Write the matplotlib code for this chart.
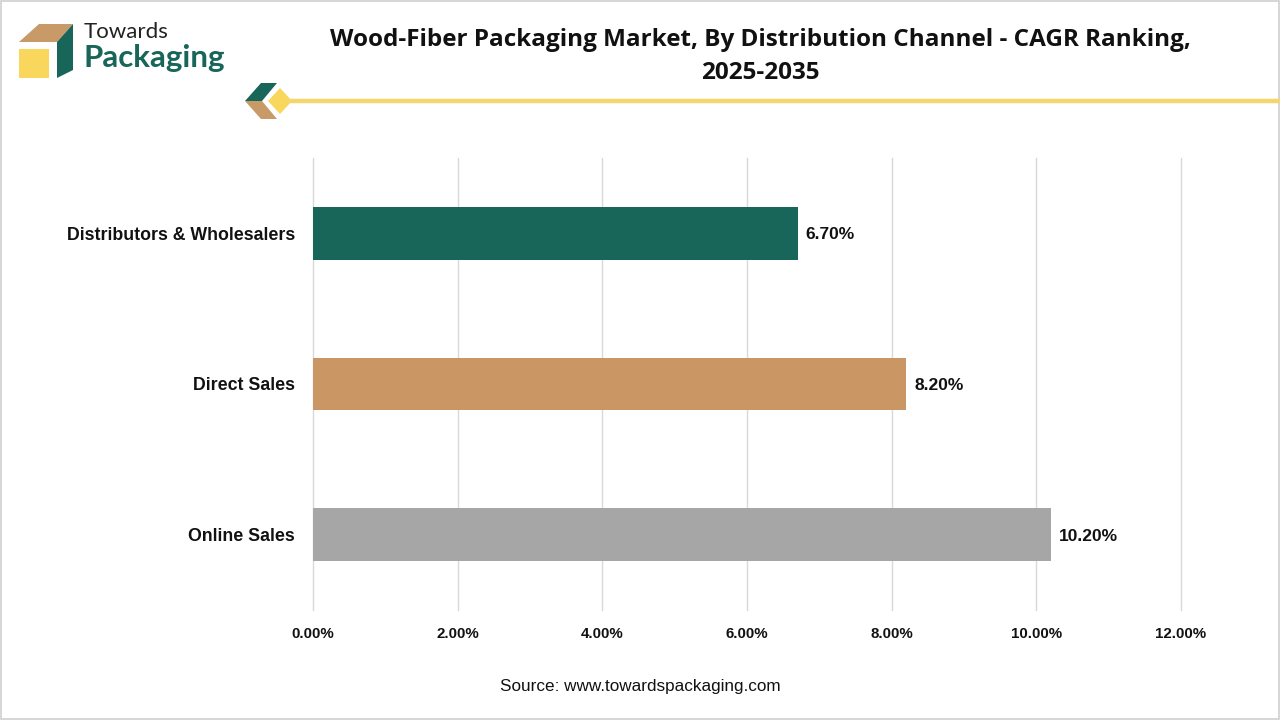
import matplotlib

matplotlib.use("Agg")
import matplotlib.pyplot as plt
from matplotlib.patches import Polygon, Rectangle
from matplotlib.ticker import FuncFormatter

channels = ["Distributors & Wholesalers", "Direct Sales", "Online Sales"]
cagr = [6.70, 8.20, 10.20]
bar_colors = ["#18665a", "#c99664", "#a6a6a6"]
x_ticks = [0, 2, 4, 6, 8, 10, 12]

title = "Wood-Fiber Packaging Market, By Distribution Channel - CAGR Ranking,\n2025-2035"
source = "Source: www.towardspackaging.com"

W, H = 1280, 720
fig = plt.figure(figsize=(12.8, 7.2), dpi=100)
fig.patch.set_facecolor("white")

# page frame
fig.add_artist(Rectangle((0.001, 0.001), 0.998, 0.997, transform=fig.transFigure,
                         fill=False, edgecolor="#d0d0d0", linewidth=1.2))


def px(x, y):
    return (x / W, 1 - y / H)


def poly(points, color):
    fig.add_artist(Polygon([px(*p) for p in points], closed=True, transform=fig.transFigure,
                           facecolor=color, edgecolor="none"))


# logo: box made of three faces
poly([(19, 42), (39, 24), (73, 24), (57, 42)], "#c89a68")
poly([(57, 42), (73, 24), (73, 70), (57, 78)], "#18665a")
poly([(19, 49), (49, 49), (49, 78), (19, 78)], "#f9d65c")
fig.text(84 / W, 1 - 32 / H, "Towards", fontsize=16, color="#222222", va="center",
         family="Lato")
fig.text(83 / W, 1 - 58 / H, "Packaging", fontsize=22.5, color="#18665a", va="center",
         fontweight="bold", family="Lato")

# decorative line under the title
fig.add_artist(plt.Line2D([290 / W, 1.0], [1 - 101 / H] * 2, transform=fig.transFigure,
                          color="#f6d66a", linewidth=3.2))
poly([(245, 101), (261, 83), (277, 83), (262, 101)], "#18665a")
poly([(245, 101), (262, 101), (277, 119), (261, 119)], "#c89a68")
poly([(280, 88), (292, 101), (280, 114), (268, 101)], "#f9d65c")

fig.text(760 / W, 1 - 56.5 / H, title, ha="center", va="center", fontsize=17.5,
         fontweight="bold", color="#111111", linespacing=1.45, family="Open Sans")

ax = fig.add_axes([313 / W, 1 - 610 / H, 868 / W, 452 / H])
ypos = range(len(channels))
ax.barh(ypos, cagr, height=0.35, color=bar_colors, zorder=3)
for y, v in zip(ypos, cagr):
    ax.text(v + 0.11, y + 0.01, f"{v:.2f}%", va="center", ha="left", fontsize=12.5,
            fontweight="bold", color="#111111", family="Liberation Sans")

ax.set_xlim(0, 12)
ax.set_ylim(2.5, -0.5)
ax.set_xticks(x_ticks)
ax.xaxis.set_major_formatter(FuncFormatter(lambda v, _: f"{v:.2f}%"))
ax.set_yticks(list(ypos))
ax.set_yticklabels(channels)
ax.grid(axis="x", color="#d9d9d9", linewidth=1, zorder=0)
for gl in ax.get_xgridlines():
    gl.set_clip_on(False)
for spine in ax.spines.values():
    spine.set_visible(False)
ax.tick_params(axis="both", length=0)
ax.tick_params(axis="x", pad=12, labelsize=10.8)
ax.tick_params(axis="y", pad=13, labelsize=12.8)
for lab in ax.get_xticklabels() + ax.get_yticklabels():
    lab.set_fontweight("bold")
    lab.set_color("#111111")
    lab.set_family("Liberation Sans")

fig.text(640 / W, 1 - 686 / H, source, ha="center", va="center", fontsize=12.3,
         color="#111111", family="Liberation Sans")

fig.savefig("out.png", dpi=100)
